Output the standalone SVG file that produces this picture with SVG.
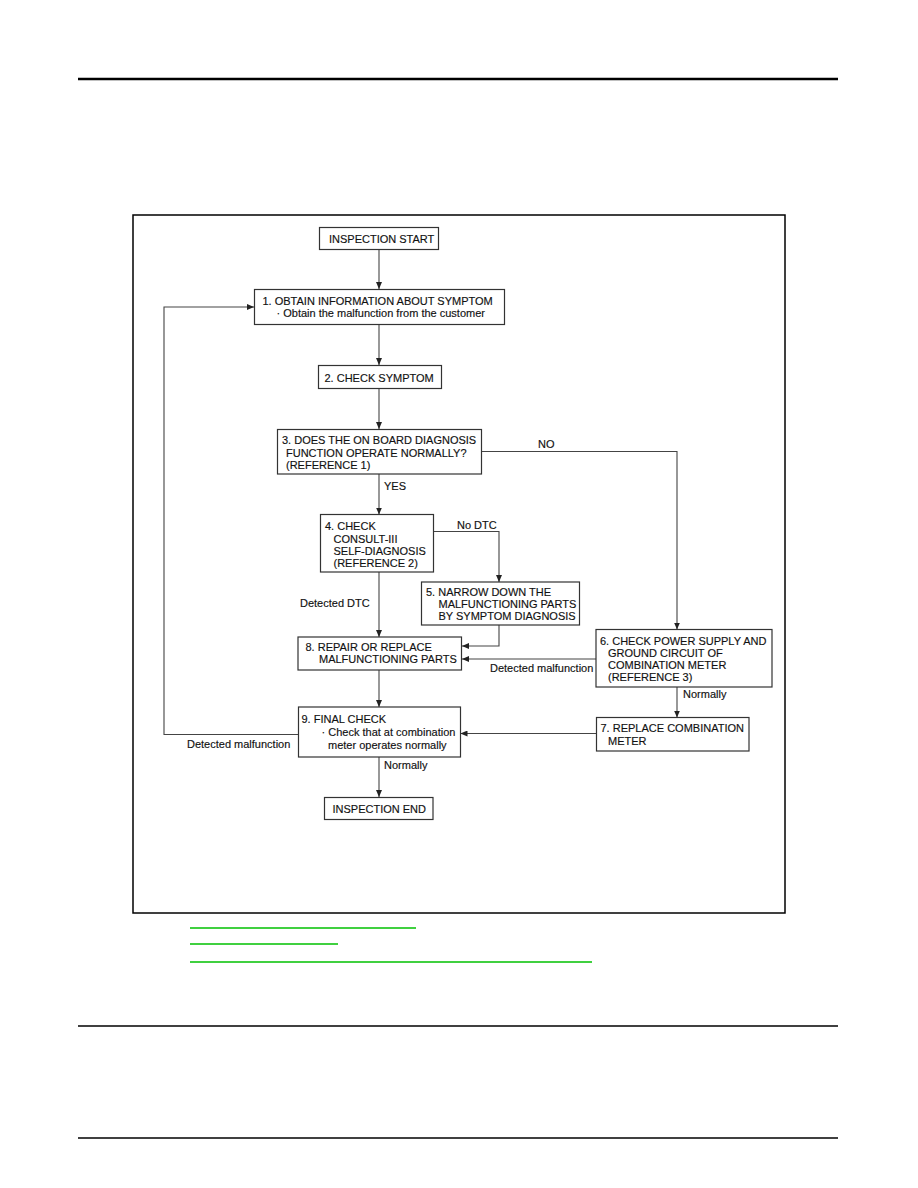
<svg xmlns="http://www.w3.org/2000/svg" width="918" height="1188" viewBox="0 0 918 1188">
<style>
  .box { fill: #fff; stroke: #333; stroke-width: 1.2; }
  .t { font-family: "Liberation Sans", Arial, sans-serif; font-size: 11px; fill: #111; stroke: #111; stroke-width: 0.15; }
  .c { fill: none; stroke: #444; stroke-width: 1.1; marker-end: url(#arr); }
  .rule { stroke: #000; }
  .link { stroke: #00c000; stroke-width: 1.5; }
</style>
<defs>
  <marker id="arr" markerUnits="userSpaceOnUse" markerWidth="7" markerHeight="6" refX="7" refY="3" orient="auto">
    <path d="M0,0 L7,3 L0,6 z" fill="#222"/>
  </marker>
</defs>
<rect width="918" height="1188" fill="#fff"/>
<line class="rule" x1="78" y1="79" x2="838" y2="79" stroke-width="2.5"/>
<line class="rule" x1="78" y1="1026" x2="838" y2="1026" stroke-width="1.5"/>
<line class="rule" x1="78" y1="1138" x2="838" y2="1138" stroke-width="1.5"/>
<rect x="133" y="215" width="652" height="698" fill="none" stroke="#000" stroke-width="1.5"/>
<g id="links">
  <line class="link" x1="190" y1="928" x2="416" y2="928"/>
  <line class="link" x1="190" y1="944" x2="338" y2="944"/>
  <line class="link" x1="190" y1="962" x2="592" y2="962"/>
</g>
<g id="connectors">
  <path class="c" d="M379,249.5 V289"/>
  <path class="c" d="M379,324.5 V365"/>
  <path class="c" d="M379,388.5 V429"/>
  <path class="c" d="M379,474 V514.5"/>
  <path class="c" d="M482,451.5 H677 V629.5"/>
  <path class="c" d="M433.5,531.5 H499 V582"/>
  <path class="c" d="M379,572 V637"/>
  <path class="c" d="M499,625 V646 H462"/>
  <path class="c" d="M596,659 H462"/>
  <path class="c" d="M379,670 V707"/>
  <path class="c" d="M677,687 V717.5"/>
  <path class="c" d="M596.5,733.5 H460.5"/>
  <path class="c" d="M298.5,734.5 H164 V307 H254"/>
  <path class="c" d="M379,757 V797"/>
  <text class="t" x="384" y="490">YES</text>
  <text class="t" x="538" y="448">NO</text>
  <text class="t" x="457" y="529">No DTC</text>
  <text class="t" x="300" y="607">Detected DTC</text>
  <text class="t" x="490" y="672">Detected malfunction</text>
  <text class="t" x="683" y="698">Normally</text>
  <text class="t" x="187" y="748">Detected malfunction</text>
  <text class="t" x="384" y="769">Normally</text>
</g>
<g id="start">
  <rect class="box" x="319.5" y="227.5" width="119" height="22"/>
  <text class="t" x="329" y="242.5">INSPECTION START</text>
</g>
<g id="n1">
  <rect class="box" x="254.5" y="289.5" width="250" height="35"/>
  <text class="t" x="262.5" y="305">1. OBTAIN INFORMATION ABOUT SYMPTOM</text>
  <text class="t" x="276.5" y="317">· Obtain the malfunction from the customer</text>
</g>
<g id="n2">
  <rect class="box" x="318.5" y="365.5" width="123" height="23"/>
  <text class="t" x="324.5" y="381.5">2. CHECK SYMPTOM</text>
</g>
<g id="n3">
  <rect class="box" x="277.5" y="429.5" width="204" height="44.5"/>
  <text class="t" x="282" y="444">3. DOES THE ON BOARD DIAGNOSIS</text>
  <text class="t" x="286" y="456.5">FUNCTION OPERATE NORMALLY?</text>
  <text class="t" x="286" y="468.5">(REFERENCE 1)</text>
</g>
<g id="n4">
  <rect class="box" x="320.5" y="514.5" width="113" height="57.5"/>
  <text class="t" x="325" y="530">4. CHECK</text>
  <text class="t" x="333.5" y="542.5">CONSULT-III</text>
  <text class="t" x="333.5" y="554.5">SELF-DIAGNOSIS</text>
  <text class="t" x="333.5" y="566.5">(REFERENCE 2)</text>
</g>
<g id="n5">
  <rect class="box" x="421.5" y="582" width="158" height="43"/>
  <text class="t" x="426" y="596">5. NARROW DOWN THE</text>
  <text class="t" x="438.5" y="608">MALFUNCTIONING PARTS</text>
  <text class="t" x="438.5" y="620">BY SYMPTOM DIAGNOSIS</text>
</g>
<g id="n6">
  <rect class="box" x="596" y="629.5" width="176" height="57.5"/>
  <text class="t" x="600" y="645">6. CHECK POWER SUPPLY AND</text>
  <text class="t" x="608" y="657">GROUND CIRCUIT OF</text>
  <text class="t" x="608" y="669">COMBINATION METER</text>
  <text class="t" x="608" y="681">(REFERENCE 3)</text>
</g>
<g id="n7">
  <rect class="box" x="596.5" y="717.5" width="152.5" height="33.5"/>
  <text class="t" x="600.5" y="732">7. REPLACE COMBINATION</text>
  <text class="t" x="608" y="744.5">METER</text>
</g>
<g id="n8">
  <rect class="box" x="298" y="637" width="163.5" height="33"/>
  <text class="t" x="305.5" y="651">8. REPAIR OR REPLACE</text>
  <text class="t" x="319" y="663">MALFUNCTIONING PARTS</text>
</g>
<g id="n9">
  <rect class="box" x="298.5" y="707" width="162" height="50"/>
  <text class="t" x="301.5" y="723">9. FINAL CHECK</text>
  <text class="t" x="321.5" y="736">· Check that at combination</text>
  <text class="t" x="328" y="749">meter operates normally</text>
</g>
<g id="end">
  <rect class="box" x="324.5" y="797.5" width="108.5" height="22"/>
  <text class="t" x="332.5" y="813">INSPECTION END</text>
</g>
</svg>
